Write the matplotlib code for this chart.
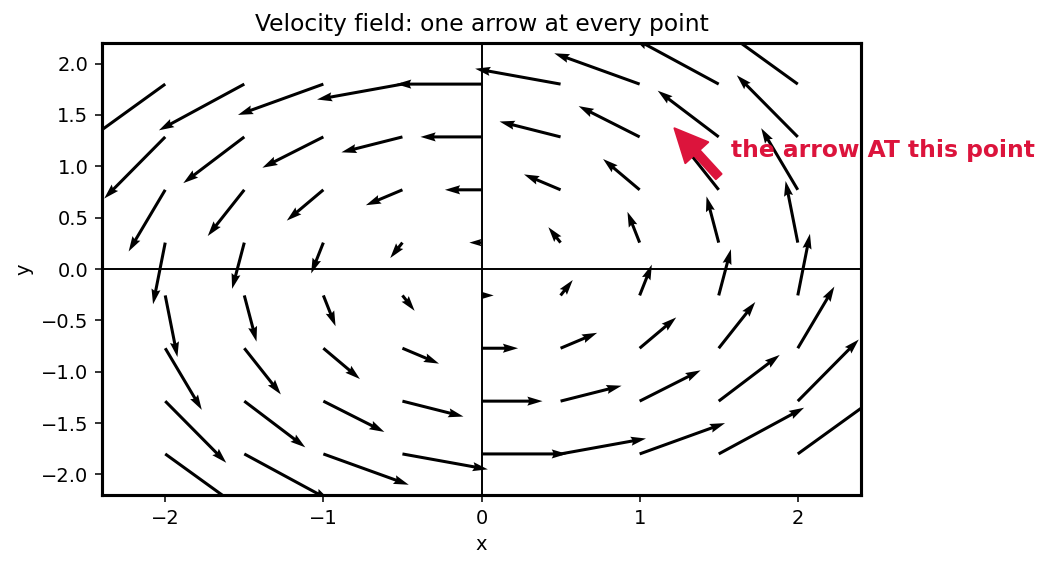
import numpy as np
import matplotlib.pyplot as plt

# grid of sample points
xs = [-2.0, -1.5, -1.0, -0.5, 0.0, 0.5, 1.0, 1.5, 2.0]
ys = [-1.8, -1.286, -0.771, -0.257, 0.257, 0.771, 1.286, 1.8]
k = 0.3  # rotation strength

X, Y = np.meshgrid(xs, ys)
U = -k * Y
V = k * X

fig = plt.figure(figsize=(1048 / 140, 569 / 140), dpi=140)
ax = fig.add_axes([0.0973, 0.130, 0.7243, 0.7944])

ax.axhline(0, color="black", lw=1)
ax.axvline(0, color="black", lw=1)
ax.quiver(X, Y, U, V, angles="xy", scale_units="xy", scale=1, width=0.004, color="black")

ax.annotate("", xy=(1.22, 1.37), xytext=(1.5, 0.9),
            arrowprops=dict(facecolor="crimson", edgecolor="crimson", width=4, headwidth=16, headlength=17, shrink=0))
ax.text(1.58, 1.15, "the arrow AT this point", color="crimson", fontsize=12,
        fontweight="bold", ha="left", va="center", clip_on=False)

ax.set_xlim(-2.4, 2.4)
ax.set_ylim(-2.2, 2.2)
ax.set_xlabel("x")
ax.set_ylabel("y")
ax.set_title("Velocity field: one arrow at every point")
for s in ax.spines.values():
    s.set_linewidth(1.6)

fig.savefig("out.png", dpi=140)
